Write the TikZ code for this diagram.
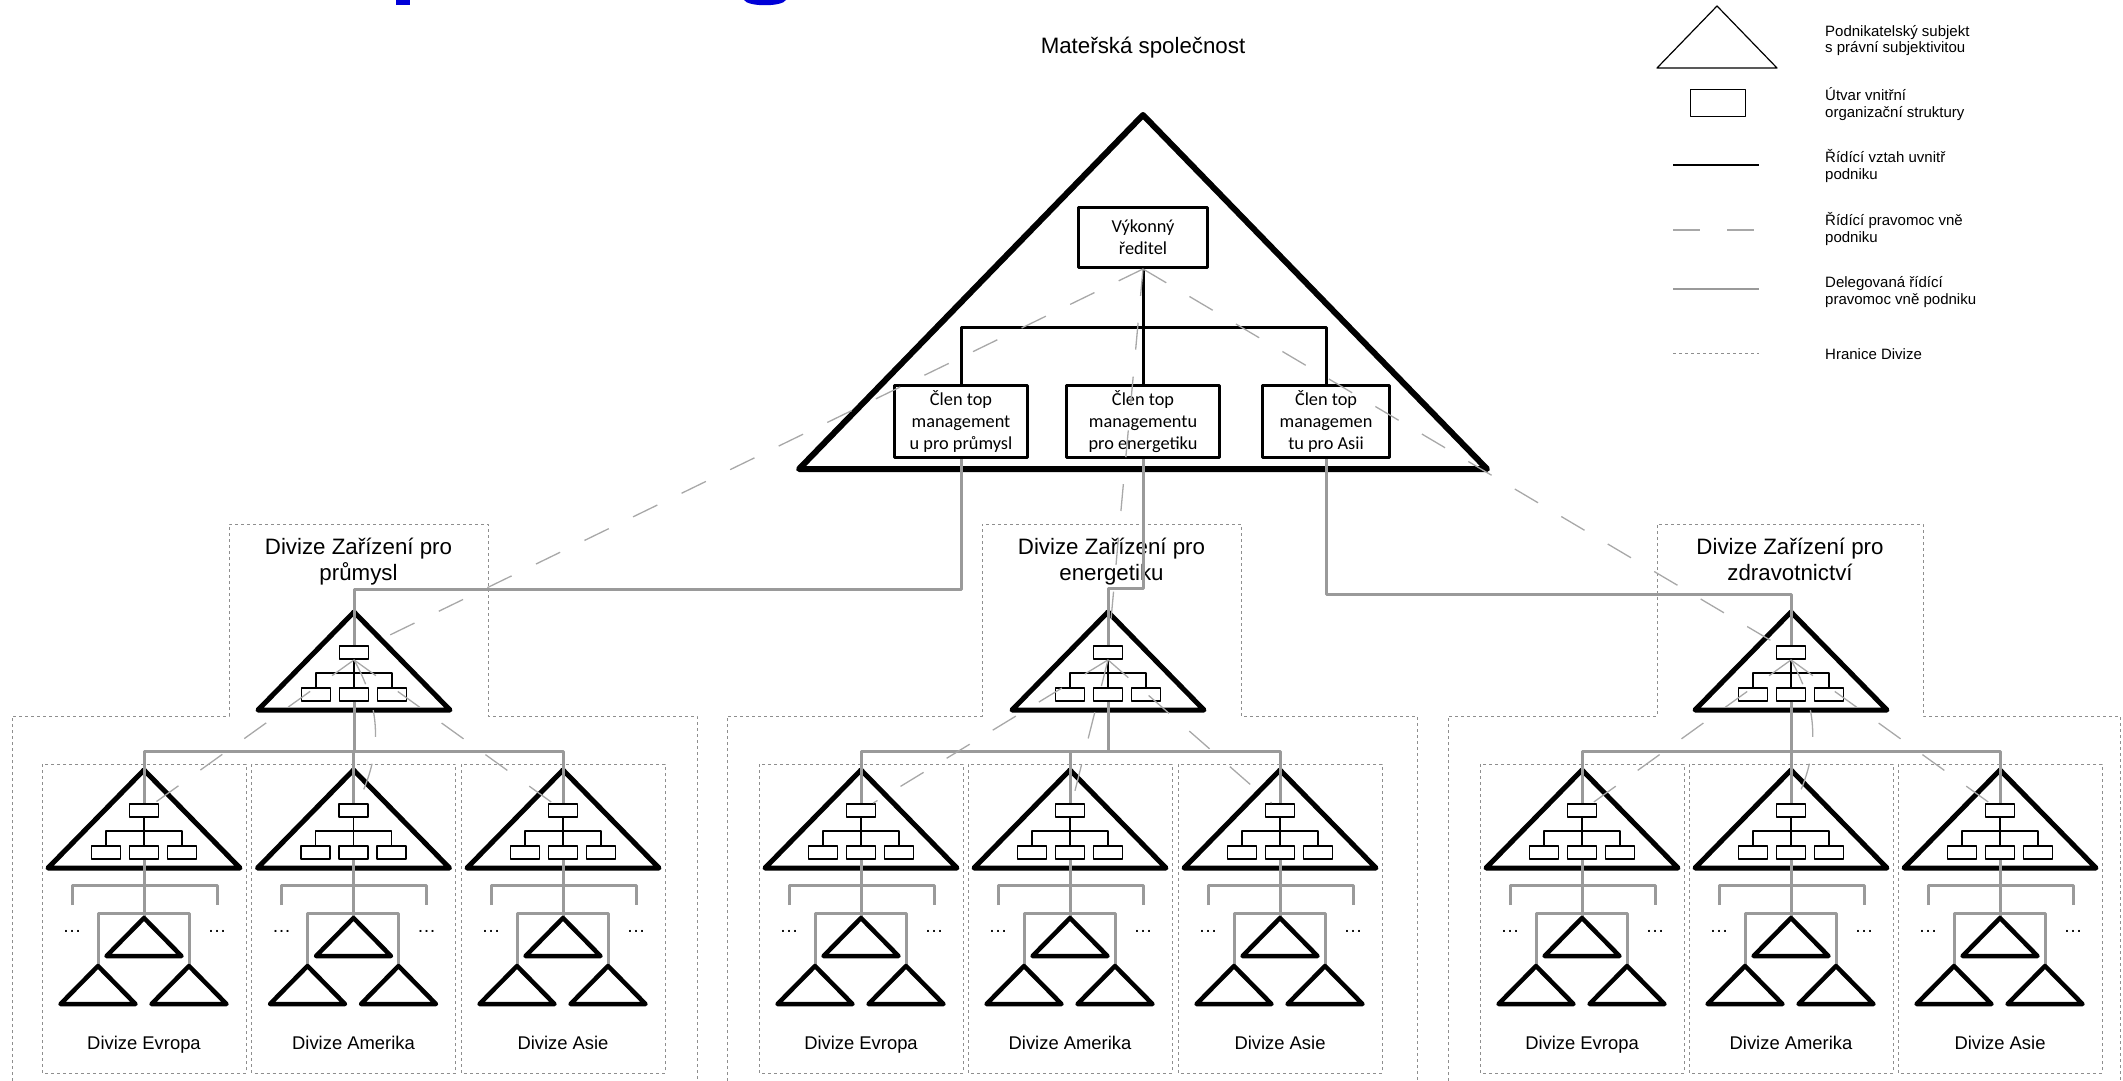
\documentclass[tikz,border=0pt]{standalone}
\usepackage{fontspec}
\setmainfont{Liberation Sans}
\newfontfamily\calib{Carlito}
\usetikzlibrary{calc}
\definecolor{delg}{HTML}{9A9A9A}
\definecolor{ctrlg}{HTML}{A8A8A8}
\definecolor{bordg}{HTML}{8E8E8E}
\definecolor{topblue}{HTML}{0000D8}

% triangle with a small org chart inside, #1 name, #2 #3 apex
\newcommand{\orgtri}[3]{%
\draw[tri] (#2,#3) -- (#2-96,#3+98) -- (#2+96,#3+98) -- cycle;
\node[ubox] (#1t) at (#2,#3+40.5) {};
\node[ubox] (#1l) at (#2-38,#3+82.5) {};
\node[ubox] (#1m) at (#2,#3+82.5) {};
\node[ubox] (#1r) at (#2+38,#3+82.5) {};
\draw[orgln] (#1t) -- (#1m);
\draw[orgln] (#1l) |- (#2,#3+61) -| (#1r);
}
% one regional division, #1 name, #2 x, #3 label
\newcommand{\subdiv}[3]{%
\draw[hranice] (#2-102,764) rectangle (#2+102,1073);
\orgtri{#1}{#2}{770}
\coordinate (#1a) at (#2,918);
\coordinate (#1b) at (#2-46,966);
\coordinate (#1c) at (#2+45,966);
\draw[deleg] (#2-72,905) |- (#2+73,885) -- (#2+73,905);
\draw[deleg] (#1b) -- ++(0,-53) -| (#1c);
\draw[deleg] (#1m) -- (#1a);
\draw[smalltri] (#1a) -- ++(-37.5,38) -- ++(75,0) -- cycle;
\draw[smalltri] (#1b) -- ++(-37.5,38) -- ++(75,0) -- cycle;
\draw[smalltri] (#1c) -- ++(-37.5,38) -- ++(75,0) -- cycle;
\node[elip] (#1x) at (#2-72,932) {…};
\node[elip] (#1y) at (#2+73,932) {…};
\node[sublabel] (#1n) at (#2,1049) {#3};
}

\begin{document}
\begin{tikzpicture}[line cap=round,line join=round,x=1pt,y=-1pt,
  bigtri/.style={line width=6pt},
  tri/.style={line width=5pt},
  smalltri/.style={line width=4.5pt},
  mbox/.style={draw,line width=3pt,font=\calib\fontsize{18.3}{22}\selectfont,align=center,inner sep=0pt},
  ubox/.style={draw,line width=1.8pt,minimum width=29pt,minimum height=13pt,inner sep=0pt},
  orgln/.style={line width=1.8pt},
  mgrln/.style={line width=3pt},
  deleg/.style={delg,line width=3pt,line cap=butt},
  ctrl/.style={ctrlg,line width=1.3pt,dash pattern=on 27pt off 27pt,line cap=butt},
  hranice/.style={bordg,line width=1pt,dash pattern=on 3pt off 3pt,line cap=butt},
  elip/.style={font=\fontsize{19}{22}\selectfont,anchor=base,inner sep=0pt},
  sublabel/.style={font=\fontsize{18.4}{22}\selectfont,anchor=base,inner sep=0pt},
  divlabel/.style={font=\fontsize{22.3}{26}\selectfont,align=center,anchor=base,inner sep=0pt},
  legtext/.style={font=\fontsize{15}{16.7}\selectfont,align=left,anchor=base west,inner sep=0pt}]
\useasboundingbox (0,0) rectangle (2123,1081);
\fill[topblue] (396,0) rectangle (410,5);
\fill[topblue] (744,0) .. controls (748,7) and (782,7) .. (786,0) -- cycle;

% parent company
\node[divlabel] (matka) at (1143,54) {Mateřská společnost};
\draw[bigtri] (1143,115) -- (799,469) -- (1487,469) -- cycle;
\node[mbox,minimum width=129pt,minimum height=60pt] (exec) at (1143,237.5) {Výkonný\\ředitel};
\node[mbox,minimum width=133pt,minimum height=72pt] (m1) at (961,421.5) {Člen top\\management\\u pro průmysl};
\node[mbox,minimum width=153pt,minimum height=72pt] (m2) at (1143,421.5) {Člen top\\managementu\\pro energetiku};
\node[mbox,minimum width=127pt,minimum height=72pt] (m3) at (1326,421.5) {Člen top\\managemen\\tu pro Asii};
\coordinate (mbar) at (1143,327);
\draw[mgrln] (exec) -- (m2);
\draw[mgrln] (m1) |- (mbar) -| (m3);

% divisions
\draw[hranice] (12,1081) -- (12,716) -- (229,716) -- (229,524) -- (488,524) -- (488,716) -- (697,716) -- (697,1081);
\draw[hranice] (727,1081) -- (727,716) -- (982,716) -- (982,524) -- (1241,524) -- (1241,716) -- (1417,716) -- (1417,1081);
\draw[hranice] (1448,1081) -- (1448,716) -- (1657,716) -- (1657,524) -- (1923,524) -- (1923,716) -- (2120,716) -- (2120,1081);
\node[divlabel] (d1n) at (358.5,580) {Divize Zařízení pro\\průmysl};
\node[divlabel] (d2n) at (1111.5,580) {Divize Zařízení pro\\energetiku};
\node[divlabel] (d3n) at (1790,580) {Divize Zařízení pro\\zdravotnictví};
\orgtri{d1}{354}{612}
\orgtri{d2}{1108}{612}
\orgtri{d3}{1791}{612}

\subdiv{s11}{144}{Divize Evropa}
\subdiv{s12}{353.5}{Divize Amerika}
\subdiv{s13}{563}{Divize Asie}
\subdiv{s21}{861}{Divize Evropa}
\subdiv{s22}{1070}{Divize Amerika}
\subdiv{s23}{1280}{Divize Asie}
\subdiv{s31}{1582}{Divize Evropa}
\subdiv{s32}{1791}{Divize Amerika}
\subdiv{s33}{2000}{Divize Asie}

% delegated lines
\draw[deleg] (m1.south) -- ++(0,130) -| (d1t);
\draw[deleg] (m2.south) -- ++(0,129) -| (d2t);
\draw[deleg] (m3.south) -- ++(0,135) -| (d3t);
\draw[deleg] (d1m.south) -- ++(0,50) -| (s11t);
\draw[deleg] (d1m.south) -- ++(0,50) -| (s12t);
\draw[deleg] (d1m.south) -- ++(0,50) -| (s13t);
\draw[deleg] (d2m.south) -- ++(0,50) -| (s21t);
\draw[deleg] (d2m.south) -- ++(0,50) -| (s22t);
\draw[deleg] (d2m.south) -- ++(0,50) -| (s23t);
\draw[deleg] (d3m.south) -- ++(0,50) -| (s31t);
\draw[deleg] (d3m.south) -- ++(0,50) -| (s32t);
\draw[deleg] (d3m.south) -- ++(0,50) -| (s33t);

% control outside the company
\draw[ctrl] (exec.south) -- (d1t);
\draw[ctrl] (exec.south) -- (d2t);
\draw[ctrl] (exec.south) -- (d3t);
\draw[ctrl] (d1t.south) -- (s11t);
\draw[ctrl] (d1t.south) to[bend left=28] (s12t);
\draw[ctrl] (d1t.south) -- (s13t);
\draw[ctrl] (d2t.south) -- (s21t);
\draw[ctrl] (d2t.south) -- (s22t);
\draw[ctrl] (d2t.south) -- (s23t);
\draw[ctrl] (d3t.south) -- (s31t);
\draw[ctrl] (d3t.south) to[bend left=28] (s32t);
\draw[ctrl] (d3t.south) -- (s33t);

% legend
\draw[line width=1.2pt] (1717,6) -- (1657,68) -- (1777,68) -- cycle;
\node[draw,line width=1.2pt,minimum width=55pt,minimum height=27pt] (lgbox) at (1718,103) {};
\draw[line width=1.3pt,line cap=butt] (1673,165) -- (1759,165);
\draw[ctrl] (1673,230) -- (1759,230);
\draw[deleg,line width=1.5pt] (1673,289) -- (1759,289);
\draw[hranice] (1673,353) -- (1759,353);
\node[legtext] (lg1) at (1825,53) {Podnikatelský subjekt\\s právní subjektivitou};
\node[legtext] (lg2) at (1825,117) {Útvar vnitřní\\organizační struktury};
\node[legtext] (lg3) at (1825,179) {Řídící vztah uvnitř\\podniku};
\node[legtext] (lg4) at (1825,242) {Řídící pravomoc vně\\podniku};
\node[legtext] (lg5) at (1825,304) {Delegovaná řídící\\pravomoc vně podniku};
\node[legtext] (lg6) at (1825,359) {Hranice Divize};
\end{tikzpicture}
\end{document}
